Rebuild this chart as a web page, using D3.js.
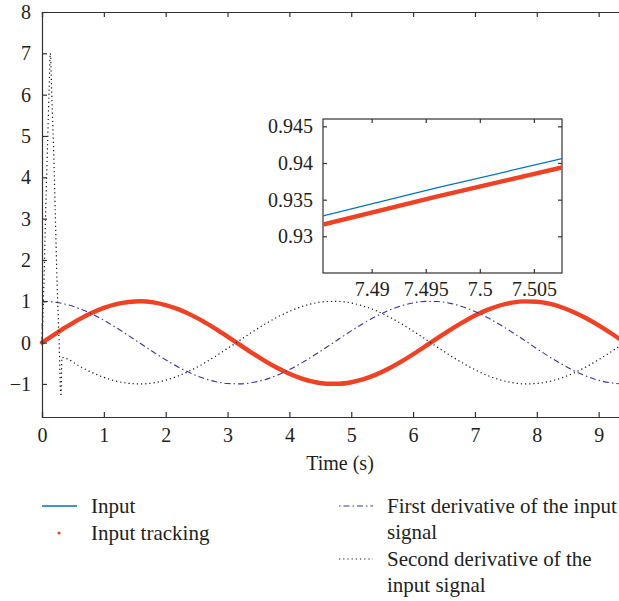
<!DOCTYPE html>
<html>
<head>
<meta charset="utf-8">
<script src="https://cdn.jsdelivr.net/npm/d3@7"></script>
<style>
body { margin: 0; background: #fff; }
svg text { font-family: "Liberation Serif", "Times New Roman", serif !important; fill: #231f20; }
</style>
</head>
<body>
<div id="container"></div>
<script>
// sampled time axis (s)
const time = [0, 0.2, 0.4, 0.6, 0.8, 1.0, 1.2, 1.4, 1.6, 1.8, 2.0, 2.2, 2.4, 2.6, 2.8, 3.0,
    3.2, 3.4, 3.6, 3.8, 4.0, 4.2, 4.4, 4.6, 4.8, 5.0, 5.2, 5.4, 5.6, 5.8, 6.0, 6.2,
    6.4, 6.6, 6.8, 7.0, 7.2, 7.4, 7.6, 7.8, 8.0, 8.2, 8.4, 8.6, 8.8, 9.0, 9.2, 9.4];

const input = [0, 0.199, 0.389, 0.565, 0.717, 0.841, 0.932, 0.985, 1.000, 0.974, 0.909, 0.808,
    0.675, 0.516, 0.335, 0.141, -0.058, -0.256, -0.443, -0.612, -0.757, -0.872, -0.952, -0.994,
    -0.996, -0.959, -0.883, -0.773, -0.631, -0.465, -0.279, -0.083, 0.117, 0.312, 0.494, 0.657,
    0.794, 0.899, 0.968, 0.999, 0.989, 0.941, 0.855, 0.734, 0.585, 0.412, 0.223, 0.025];

const tracking = [0, 0.196, 0.386, 0.563, 0.715, 0.839, 0.931, 0.984, 1.000, 0.975, 0.910, 0.810,
    0.677, 0.519, 0.338, 0.144, -0.055, -0.253, -0.440, -0.610, -0.755, -0.871, -0.951, -0.994,
    -0.996, -0.960, -0.884, -0.775, -0.633, -0.468, -0.282, -0.086, 0.114, 0.309, 0.491, 0.655,
    0.792, 0.898, 0.967, 0.999, 0.990, 0.942, 0.856, 0.736, 0.588, 0.415, 0.226, 0.028];

// first derivative estimate: short start-up jump, then the cosine part from t = 0.2
const d1StartTime = [0, 0.015];
const d1Start = [0, 1.0];
const d1 = [0.980, 0.921, 0.825, 0.697, 0.540, 0.362, 0.170, -0.029, -0.227, -0.416, -0.589,
    -0.737, -0.857, -0.942, -0.990, -0.998, -0.967, -0.897, -0.791, -0.654, -0.490, -0.307,
    -0.112, 0.087, 0.284, 0.469, 0.635, 0.776, 0.886, 0.960, 0.997, 0.993, 0.950, 0.869,
    0.754, 0.608, 0.439, 0.252, 0.057, -0.146, -0.340, -0.519, -0.679, -0.811, -0.911, -0.975, -1.000];

// second derivative estimate: start-up spike, then from t = 0.4
const d2StartTime = [0, 0.015, 0.032, 0.06, 0.092, 0.115, 0.135, 0.16, 0.185, 0.215, 0.245, 0.275, 0.307, 0.322];
const d2Start = [0, 0.6, 1.5, 3.2, 4.9, 6.1, 7.0, 5.9, 4.8, 3.1, 1.4, 0.1, -1.3, -0.36];
const d2 = [-0.389, -0.565, -0.717, -0.841, -0.932, -0.985, -1.000, -0.974, -0.909, -0.808,
    -0.675, -0.516, -0.335, -0.141, 0.058, 0.256, 0.443, 0.612, 0.757, 0.872, 0.952, 0.994,
    0.996, 0.959, 0.883, 0.773, 0.631, 0.465, 0.279, 0.083, -0.117, -0.312, -0.494, -0.657,
    -0.794, -0.899, -0.968, -0.999, -0.989, -0.941, -0.855, -0.734, -0.585, -0.412, -0.223, -0.025];

const xTicks = [0, 1, 2, 3, 4, 5, 6, 7, 8, 9];
const yTicks = [-1, 0, 1, 2, 3, 4, 5, 6, 7, 8];

// zoomed inset around t = 7.5
const insetTime = [7.4855, 7.496, 7.5076];
const insetInput = [0.9328, 0.9366, 0.9406];
const insetTracking = [0.9316, 0.9354, 0.9394];
const insetXTicks = [7.49, 7.495, 7.5, 7.505];
const insetYTicks = [0.93, 0.935, 0.94, 0.945];

const legendLeft = ["Input", "Input tracking"];
const legendRight = [["First derivative of the input", "signal"], ["Second derivative of the", "input signal"]];

const W = 619, H = 601;
const RED = "#ef4123", BLUE = "#0072bd", NAVY = "#35359a", AXIS = "#333";
const SERIF = '"Liberation Serif", "Times New Roman", serif';

const svg = d3.select("#container")
    .append("svg")
    .attr("width", W)
    .attr("height", H);

const x = d3.scaleLinear().domain([0, 9.4]).range([42, 42 + 9.4 * 61.85]);
const y = d3.scaleLinear().domain([-1.8, 8]).range([417, 12]);

const zip = (ts, vs) => ts.map((t, i) => [t, vs[i]]);
const line = d3.line()
    .x(d => x(d[0]))
    .y(d => y(d[1]))
    .curve(d3.curveMonotoneX);

const plot = svg.append("g");

plot.append("path")
    .attr("d", line(zip(time, input)))
    .attr("fill", "none").attr("stroke", BLUE).attr("stroke-width", 1.2);

plot.append("path")
    .attr("d", line(zip(time, tracking)))
    .attr("fill", "none").attr("stroke", RED).attr("stroke-width", 4.4)
    .attr("stroke-linecap", "round");

plot.append("path")
    .attr("d", line(zip(d1StartTime.concat(time.slice(1)), d1Start.concat(d1))))
    .attr("fill", "none").attr("stroke", NAVY).attr("stroke-width", 1.1)
    .attr("stroke-dasharray", "6,3,1.5,3");

plot.append("path")
    .attr("d", line(zip(d2StartTime.concat(time.slice(2)), d2Start.concat(d2))))
    .attr("fill", "none").attr("stroke", "#111").attr("stroke-width", 1.2)
    .attr("stroke-dasharray", "1.2,3");

// axes, MATLAB style box with inward ticks
const xAxis = svg.append("g")
    .attr("transform", `translate(0, ${y.range()[0]})`)
    .call(d3.axisBottom(x).tickValues(xTicks).tickSize(-5).tickPadding(11).tickFormat(d3.format("d")));
const xTop = svg.append("g")
    .attr("transform", `translate(0, ${y.range()[1]})`)
    .call(d3.axisTop(x).tickValues(xTicks).tickSize(-5).tickFormat(""));
const yAxis = svg.append("g")
    .attr("transform", `translate(${x(0)}, 0)`)
    .call(d3.axisLeft(y).tickValues(yTicks).tickSize(-5).tickPadding(11)
        .tickFormat(d => d < 0 ? "\u2212" + Math.abs(d) : d));

[xAxis, xTop, yAxis].forEach(a => {
    a.attr("font-family", SERIF).attr("font-size", 20);
    a.select(".domain").attr("stroke", AXIS).attr("stroke-width", 1.2);
    a.selectAll(".tick line").attr("stroke", AXIS).attr("stroke-width", 1.2);
    a.selectAll("text").style("font-family", SERIF).style("font-size", "20px");
});

svg.append("text")
    .attr("x", 340).attr("y", 470)
    .attr("text-anchor", "middle")
    .style("font-size", "20px")
    .text("Time (s)");

// inset
const ix = d3.scaleLinear().domain([7.4855, 7.5076]).range([323, 562]);
const iy = d3.scaleLinear().domain([0.925, 0.946]).range([273, 119]);

const inset = svg.append("g");
inset.append("rect")
    .attr("x", 323).attr("y", 119).attr("width", 239).attr("height", 154)
    .attr("fill", "#fff").attr("stroke", AXIS).attr("stroke-width", 1.2);

inset.append("clipPath").attr("id", "iclip")
    .append("rect").attr("x", 323).attr("y", 119).attr("width", 239).attr("height", 154);

const iline = d3.line().x(d => ix(d[0])).y(d => iy(d[1]));
const ilines = inset.append("g").attr("clip-path", "url(#iclip)");
ilines.append("path")
    .attr("d", iline(zip(insetTime, insetInput)))
    .attr("fill", "none").attr("stroke", BLUE).attr("stroke-width", 1.2);
ilines.append("path")
    .attr("d", iline(zip(insetTime, insetTracking)))
    .attr("fill", "none").attr("stroke", RED).attr("stroke-width", 4.4);

const ixAxis = inset.append("g").attr("transform", "translate(0,273)")
    .call(d3.axisBottom(ix).tickValues(insetXTicks).tickSize(-4).tickPadding(9).tickFormat(d3.format("")));
const ixTop = inset.append("g").attr("transform", "translate(0,119)")
    .call(d3.axisTop(ix).tickValues(insetXTicks).tickSize(-4).tickFormat(""));
const iyAxis = inset.append("g").attr("transform", "translate(323,0)")
    .call(d3.axisLeft(iy).tickValues(insetYTicks).tickSize(-4).tickPadding(10).tickFormat(d3.format("")));
const iyRight = inset.append("g").attr("transform", "translate(562,0)")
    .call(d3.axisRight(iy).tickValues(insetYTicks).tickSize(-4).tickFormat(""));

[ixAxis, ixTop, iyAxis, iyRight].forEach(a => {
    a.attr("font-family", SERIF).attr("font-size", 20);
    a.select(".domain").remove();
    a.selectAll(".tick line").attr("stroke", AXIS).attr("stroke-width", 1.2);
    a.selectAll("text").style("font-family", SERIF).style("font-size", "20px");
});

// legend
const leg = svg.append("g").style("font-size", "21px");
leg.append("line").attr("x1", 42).attr("x2", 77).attr("y1", 506).attr("y2", 506)
    .attr("stroke", BLUE).attr("stroke-width", 1.5);
leg.append("circle").attr("cx", 59).attr("cy", 533).attr("r", 1.6).attr("fill", RED);
legendLeft.forEach((s, i) => {
    leg.append("text").attr("x", 91).attr("y", 506 + i * 27).attr("dy", "0.33em").text(s);
});

leg.append("line").attr("x1", 339).attr("x2", 373).attr("y1", 506).attr("y2", 506)
    .attr("stroke", NAVY).attr("stroke-width", 1.1).attr("stroke-dasharray", "1.5,3,6,3");
leg.append("line").attr("x1", 339).attr("x2", 373).attr("y1", 559).attr("y2", 559)
    .attr("stroke", "#111").attr("stroke-width", 1.1).attr("stroke-dasharray", "1.2,3");
legendRight.forEach((pair, i) => {
    pair.forEach((s, j) => {
        leg.append("text").attr("x", 387).attr("y", 506 + i * 53 + j * 26).attr("dy", "0.33em").text(s);
    });
});
</script>
</body>
</html>
